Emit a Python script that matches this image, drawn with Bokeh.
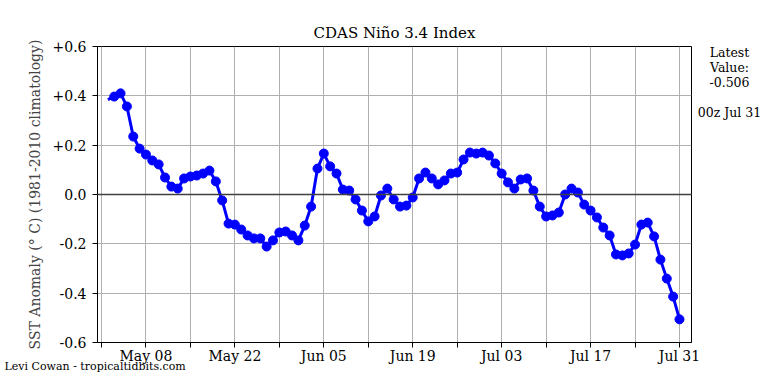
import pandas as pd
from bokeh.plotting import figure
from bokeh.models import (FixedTicker, DatetimeTickFormatter, CustomJSTickFormatter,
                          Range1d, Label, Span, ColumnDataSource, Title)
from bokeh.embed import file_html
from bokeh.resources import INLINE

# ---------------- data ----------------
start_date = "2024-05-02"
anomaly = [
    0.385, 0.397, 0.410, 0.357, 0.235, 0.186, 0.162, 0.138, 0.122, 0.069,
    0.032, 0.024, 0.065, 0.073, 0.077, 0.085, 0.097, 0.053, -0.024, -0.118,
    -0.122, -0.142, -0.166, -0.178, -0.178, -0.211, -0.186, -0.154, -0.150, -0.166,
    -0.186, -0.126, -0.049, 0.105, 0.166, 0.114, 0.085, 0.020, 0.016, -0.020,
    -0.065, -0.109, -0.089, -0.004, 0.024, -0.020, -0.049, -0.045, -0.012, 0.065,
    0.089, 0.065, 0.041, 0.057, 0.085, 0.089, 0.142, 0.170, 0.166, 0.170,
    0.158, 0.126, 0.085, 0.049, 0.024, 0.061, 0.065, 0.016, -0.049, -0.089,
    -0.085, -0.073, 0.000, 0.024, 0.008, -0.041, -0.065, -0.093, -0.134, -0.166,
    -0.243, -0.247, -0.239, -0.203, -0.122, -0.114, -0.170, -0.264, -0.341, -0.414,
    -0.506,
]
major_tick_dates = ["2024-05-08", "2024-05-22", "2024-06-05", "2024-06-19",
                    "2024-07-03", "2024-07-17", "2024-07-31"]
minor_tick_dates = ["2024-05-01", "2024-05-15", "2024-05-29", "2024-06-12",
                    "2024-06-26", "2024-07-10", "2024-07-24"]
y_ticks = [-0.6, -0.4, -0.2, 0.0, 0.2, 0.4, 0.6]
latest_value = "-0.506"
latest_time = "00z Jul 31"

# ---------------- helpers ----------------
EPOCH = pd.Timestamp("1970-01-01")
def to_ms(d):
    return (pd.Timestamp(d) - EPOCH) / pd.Timedelta("1ms")

dates = pd.date_range(start_date, periods=len(anomaly), freq="D")
src_all = ColumnDataSource(dict(x=list(dates), y=anomaly))
src_mk = ColumnDataSource(dict(x=list(dates[1:]), y=anomaly[1:]))

DAY = 86400000.0
x_start = to_ms(minor_tick_dates[0]) - 0.63 * DAY
x_end = to_ms(major_tick_dates[-1]) + 1.89 * DAY

FONT = "DejaVu Serif"

p = figure(width=768, height=384, x_axis_type="datetime",
           output_backend="svg", toolbar_location=None,
           x_range=Range1d(x_start, x_end), y_range=Range1d(-0.6, 0.6),
           min_border_left=97, min_border_right=77,
           min_border_top=46, min_border_bottom=42)
p.background_fill_color = "white"
p.border_fill_color = "white"
p.outline_line_color = "black"
p.outline_line_width = 1
p.outline_line_alpha = 1

# title
p.add_layout(Title(text="CDAS Niño 3.4 Index", align="center", text_font=FONT,
                   text_font_size="15px", text_font_style="normal",
                   text_color="black", standoff=10), "above")

# axes
p.xaxis.ticker = FixedTicker(ticks=[to_ms(d) for d in major_tick_dates],
                             minor_ticks=[to_ms(d) for d in minor_tick_dates])
p.xaxis.formatter = DatetimeTickFormatter(days="%b %d", months="%b %d")
p.yaxis.ticker = FixedTicker(ticks=y_ticks, minor_ticks=[])
p.yaxis.formatter = CustomJSTickFormatter(code="""
    if (Math.abs(tick) < 1e-9) { return '0.0'; }
    return (tick > 0 ? '+' : '') + tick.toFixed(1);
""")
for ax in (p.xaxis, p.yaxis):
    ax.axis_line_color = "black"
    ax.major_tick_line_color = "black"
    ax.minor_tick_line_color = "black"
    ax.major_tick_in = 0
    ax.major_tick_out = 5
    ax.minor_tick_in = 0
    ax.minor_tick_out = 5
    ax.major_label_text_font = FONT
    ax.major_label_text_font_size = "14px"
    ax.major_label_text_color = "black"
p.xaxis.major_label_standoff = 0
p.yaxis.major_label_standoff = 6
p.yaxis.axis_label = "SST Anomaly (° C) (1981-2010 climatology)"
p.yaxis.axis_label_text_font = FONT
p.yaxis.axis_label_text_font_style = "normal"
p.yaxis.axis_label_text_font_size = "14px"
p.yaxis.axis_label_standoff = 7

# grid
p.xgrid.grid_line_color = "#b0b0b0"
p.xgrid.minor_grid_line_color = "#b0b0b0"
p.ygrid.grid_line_color = "#b0b0b0"
for g in (p.xgrid, p.ygrid):
    g.grid_line_width = 1

p.add_layout(Span(location=0, dimension="width", line_color="#404040", line_width=1.5))

# data
p.line("x", "y", source=src_all, line_color="#0000ff", line_width=3)
p.scatter("x", "y", source=src_mk, size=9, fill_color="#0000ff", line_color="#0000ff")

# right-hand text block (one label so the right panel stays narrow)
side_text = "Latest\nValue:\n" + latest_value + "\n\n" + latest_time
p.add_layout(Label(x=38, y=260, x_units="screen", y_units="screen",
                   text=side_text, text_font=FONT, text_font_size="12.5px",
                   text_align="center", text_baseline="middle",
                   text_line_height=1.0, text_color="black"), "right")

# credit, as a label in the bottom side panel
p.add_layout(Label(x=-93, y=13, x_units="screen", y_units="screen",
                   text="Levi Cowan - tropicaltidbits.com", text_font=FONT,
                   text_font_size="11px", text_align="left", text_baseline="middle",
                   text_color="black"), "below")

open("out.html", "w").write(file_html(p, INLINE))
